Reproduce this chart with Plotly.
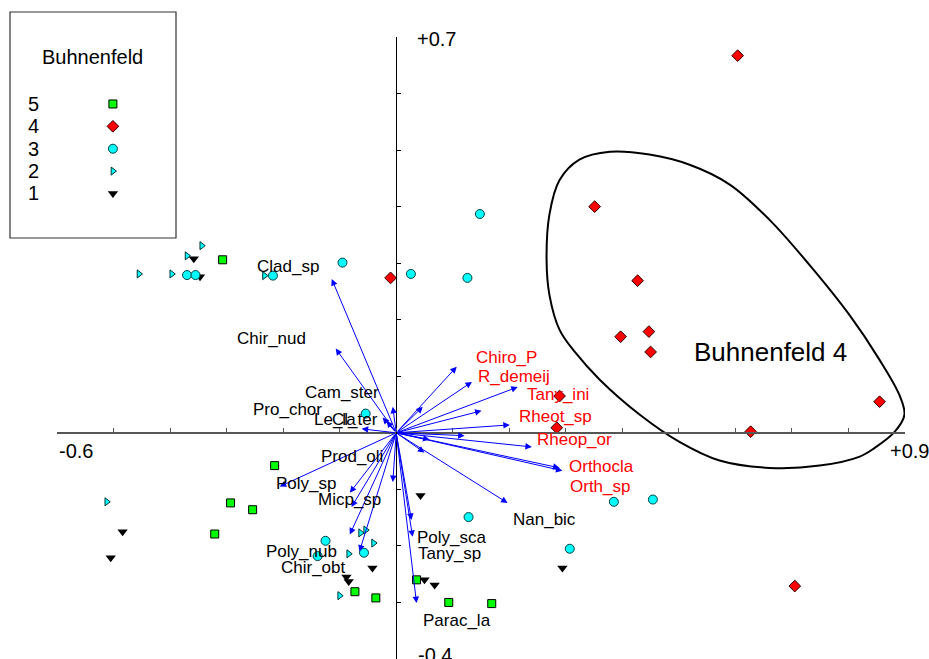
import plotly.graph_objects as go

# ---------------- data (CCA / RDA biplot scores) ----------------
groups = ["5", "4", "3", "2", "1"]

g5_x = [-0.307, -0.215, -0.293, -0.254, -0.321, -0.073, -0.036, 0.036, 0.093, 0.169]
g5_y = [0.306, -0.058, -0.124, -0.136, -0.179, -0.281, -0.292, -0.260, -0.300, -0.302]

g4_x = [0.604, 0.351, 0.427, -0.010, 0.397, 0.447, 0.450, 0.855, 0.627, 0.284, 0.289, 0.705]
g4_y = [0.667, 0.400, 0.269, 0.274, 0.170, 0.179, 0.143, 0.055, 0.002, 0.009, 0.065, -0.271]

g3_x = [0.148, -0.095, 0.026, 0.126, -0.370, -0.355, -0.218, -0.054, -0.125, -0.139, -0.057, 0.128, 0.307, 0.385, 0.454]
g3_y = [0.387, 0.301, 0.281, 0.274, 0.279, 0.279, 0.278, 0.034, -0.191, -0.218, -0.212, -0.149, -0.205, -0.122, -0.118]

g2_x = [-0.344, -0.370, -0.455, -0.397, -0.233, -0.512, -0.063, -0.054, -0.040, -0.084, -0.100]
g2_y = [0.331, 0.313, 0.281, 0.281, 0.278, -0.122, -0.177, -0.172, -0.195, -0.214, -0.288]

g1_x = [-0.358, -0.347, -0.484, -0.505, -0.042, -0.088, -0.084, 0.050, 0.068, 0.043, 0.294]
g1_y = [0.308, 0.276, -0.175, -0.221, -0.239, -0.255, -0.263, -0.260, -0.269, -0.111, -0.239]

# species arrows (tips) and labels
species = ["Clad_sp", "Chir_nud", "Cam_ster", "Pro_chor", "Le_la", "Cl_ter", "Prod_oli",
           "Poly_sp", "Micp_sp", "", "Poly_nub", "Chir_obt", "Poly_sca", "Tany_sp", "Parac_la",
           "Nan_bic", "Chiro_P", "R_demeij", "Tany_ini", "Rheot_sp", "Rheop_or", "Orthocla",
           "Orth_sp", "", "", "", "", ""]
sp_x = [-0.114, -0.107, -0.017, -0.061, -0.024, -0.006, -0.006,
        -0.206, -0.082, -0.079, -0.082, -0.065, 0.027, 0.029, 0.036,
        0.197, 0.107, 0.134, 0.215, 0.151, 0.240, 0.294,
        0.289, 0.047, 0.201, 0.121, 0.059, 0.050]
sp_y = [0.272, 0.149, 0.021, 0.007, 0.027, 0.046, -0.087,
        -0.095, -0.106, -0.131, -0.180, -0.210, -0.154, -0.184, -0.301,
        -0.124, 0.117, 0.090, 0.081, 0.039, -0.025, -0.067,
        -0.062, 0.046, 0.014, -0.005, -0.012, -0.035]
lab_x = [-0.192, -0.221, -0.095, -0.192, -0.109, -0.073, -0.078,
         -0.160, -0.083, None, -0.168, -0.146, 0.099, 0.095, 0.107,
         0.263, 0.195, 0.209, 0.287, 0.282, 0.316, 0.364,
         0.360, None, None, None, None, None]
lab_y = [0.295, 0.166, 0.071, 0.041, 0.023, 0.023, -0.041,
         -0.090, -0.118, None, -0.210, -0.239, -0.186, -0.214, -0.332,
         -0.154, 0.133, 0.099, 0.067, 0.028, -0.012, -0.060,
         -0.095, None, None, None, None, None]
red_species = ["Chiro_P", "R_demeij", "Tany_ini", "Rheot_sp", "Rheop_or", "Orthocla", "Orth_sp"]

# hull around Buhnenfeld 4
hull_x = [0.289, 0.324, 0.378, 0.448, 0.519, 0.590, 0.660, 0.731, 0.802, 0.855, 0.890, 0.899,
          0.882, 0.846, 0.820, 0.749, 0.660, 0.572, 0.501, 0.431, 0.360, 0.316, 0.289, 0.271,
          0.266, 0.271]
hull_y = [0.447, 0.483, 0.497, 0.492, 0.474, 0.439, 0.377, 0.297, 0.208, 0.129, 0.067, 0.032,
          0.002, -0.027, -0.042, -0.058, -0.062, -0.049, -0.016, 0.032, 0.094, 0.143, 0.182,
          0.244, 0.306, 0.386]
hull_label = "Buhnenfeld 4"
hull_label_xy = (0.662, 0.143)

x_range = [-0.6, 0.9]
y_range = [-0.4, 0.7]

# ---------------- styles ----------------
W, H = 929, 659
FONT = "Liberation Sans, Arial, sans-serif"
styles = {
    "5": dict(symbol="square", size=8, color="#00ff00", line=dict(color="#000000", width=1)),
    "4": dict(symbol="diamond", size=9, color="#ff0000", line=dict(color="#300000", width=1)),
    "3": dict(symbol="circle", size=9, color="#00ffff", line=dict(color="#004040", width=1)),
    "2": dict(symbol="triangle-right", size=7, color="#00ffff", line=dict(color="#003030", width=1)),
    "1": dict(symbol="triangle-down", size=9, color="#000000", line=dict(color="#000000", width=0)),
}
group_data = {"5": (g5_x, g5_y), "4": (g4_x, g4_y), "3": (g3_x, g3_y),
              "2": (g2_x, g2_y), "1": (g1_x, g1_y)}

# plot area in pixels
L, R, T, B = 57, 905, 37, 659
xdom = [L / W, R / W]
ydom = [(H - B) / H, (H - T) / H]

fig = go.Figure()

# hull
fig.add_trace(go.Scatter(x=hull_x + hull_x[:1], y=hull_y + hull_y[:1], mode="lines",
                         line=dict(color="black", width=2, shape="spline", smoothing=1.0),
                         hoverinfo="skip", showlegend=False))

# sample points
for g in ["1", "2", "3", "5", "4"]:
    xs, ys = group_data[g]
    st = styles[g]
    fig.add_trace(go.Scatter(x=xs, y=ys, mode="markers", name=g, showlegend=False,
                             marker=dict(symbol=st["symbol"], size=st["size"],
                                         color=st["color"], line=st["line"])))

annotations = []
# species arrows
for name, tx, ty in zip(species, sp_x, sp_y):
    annotations.append(dict(x=tx, y=ty, ax=0, ay=0, xref="x", yref="y", axref="x", ayref="y",
                            showarrow=True, arrowhead=2, arrowsize=1.3, arrowwidth=1,
                            arrowcolor="#0000ff", standoff=0, text=""))
# species labels
for name, lx, ly in zip(species, lab_x, lab_y):
    if not name:
        continue
    annotations.append(dict(x=lx, y=ly, xref="x", yref="y", text=name, showarrow=False,
                            xanchor="center", yanchor="middle",
                            font=dict(family=FONT, size=17,
                                      color="#ff0000" if name in red_species else "#000000")))
# hull label
annotations.append(dict(x=hull_label_xy[0], y=hull_label_xy[1], xref="x", yref="y",
                        text=hull_label, showarrow=False,
                        font=dict(family=FONT, size=26, color="black")))
# axis end labels
annotations += [
    dict(x=x_range[0], y=0, xref="x", yref="y", text="-0.6", showarrow=False,
         xanchor="left", yanchor="top", yshift=-5, font=dict(family=FONT, size=20, color="black")),
    dict(x=x_range[1], y=0, xref="x", yref="y", text="+0.9", showarrow=False,
         xanchor="left", yanchor="top", xshift=-17, yshift=-5, font=dict(family=FONT, size=20, color="black")),
    dict(x=0, y=y_range[1], xref="x", yref="y", text="+0.7", showarrow=False,
         xanchor="left", yanchor="middle", xshift=19, yshift=-2, font=dict(family=FONT, size=20, color="black")),
    dict(x=0, y=y_range[0], xref="x", yref="y", text="-0.4", showarrow=False,
         xanchor="left", yanchor="middle", xshift=20, yshift=4, font=dict(family=FONT, size=20, color="black")),
]

# legend (own small axes)
leg_dom_x = [10 / W, 176 / W]
leg_dom_y = [(H - 238) / H, (H - 12) / H]
row_y = [0.593 - i * 0.099 for i in range(len(groups))]
for g, yy in zip(groups, row_y):
    st = styles[g]
    fig.add_trace(go.Scatter(x=[0.62], y=[yy], xaxis="x2", yaxis="y2", mode="markers",
                             showlegend=False, hoverinfo="skip",
                             marker=dict(symbol=st["symbol"], size=st["size"],
                                         color=st["color"], line=st["line"])))
    annotations.append(dict(x=0.14, y=yy, xref="x2", yref="y2", text=g, showarrow=False,
                            xanchor="center", yanchor="middle",
                            font=dict(family=FONT, size=20, color="black")))
annotations.append(dict(x=0.494, y=0.801, xref="x2", yref="y2", text="Buhnenfeld",
                        showarrow=False, font=dict(family=FONT, size=20, color="black")))

shapes = [dict(type="rect", xref="paper", yref="paper", x0=leg_dom_x[0], x1=leg_dom_x[1],
               y0=leg_dom_y[0], y1=leg_dom_y[1], line=dict(color="#333333", width=1.2),
               fillcolor="rgba(0,0,0,0)", layer="below")]

x0_paper = (L + (0 - x_range[0]) / (x_range[1] - x_range[0]) * (R - L)) / W
y0_paper = ((H - B) + (0 - y_range[0]) / (y_range[1] - y_range[0]) * (B - T)) / H

fig.update_layout(
    width=W, height=H, autosize=False,
    margin=dict(l=0, r=0, t=0, b=0),
    paper_bgcolor="white", plot_bgcolor="rgba(0,0,0,0)",
    showlegend=False,
    xaxis=dict(domain=xdom, range=x_range, anchor="free", position=y0_paper,
               showgrid=False, zeroline=False, showticklabels=False,
               showline=True, linecolor="#555555", linewidth=1.5,
               ticks="inside", ticklen=4, tickwidth=1, tickcolor="#555555",
               tick0=0, dtick=0.1),
    yaxis=dict(domain=ydom, range=y_range, anchor="free", position=x0_paper,
               showgrid=False, zeroline=False, showticklabels=False,
               showline=True, linecolor="#000000", linewidth=1,
               ticks="inside", ticklen=4, tickwidth=1, tickcolor="#000000",
               tick0=0, dtick=0.1),
    xaxis2=dict(domain=leg_dom_x, range=[0, 1], anchor="y2", visible=False, fixedrange=True),
    yaxis2=dict(domain=leg_dom_y, range=[0, 1], anchor="x2", visible=False, fixedrange=True),
    annotations=annotations,
    shapes=shapes,
)

fig.write_html("out.html")
